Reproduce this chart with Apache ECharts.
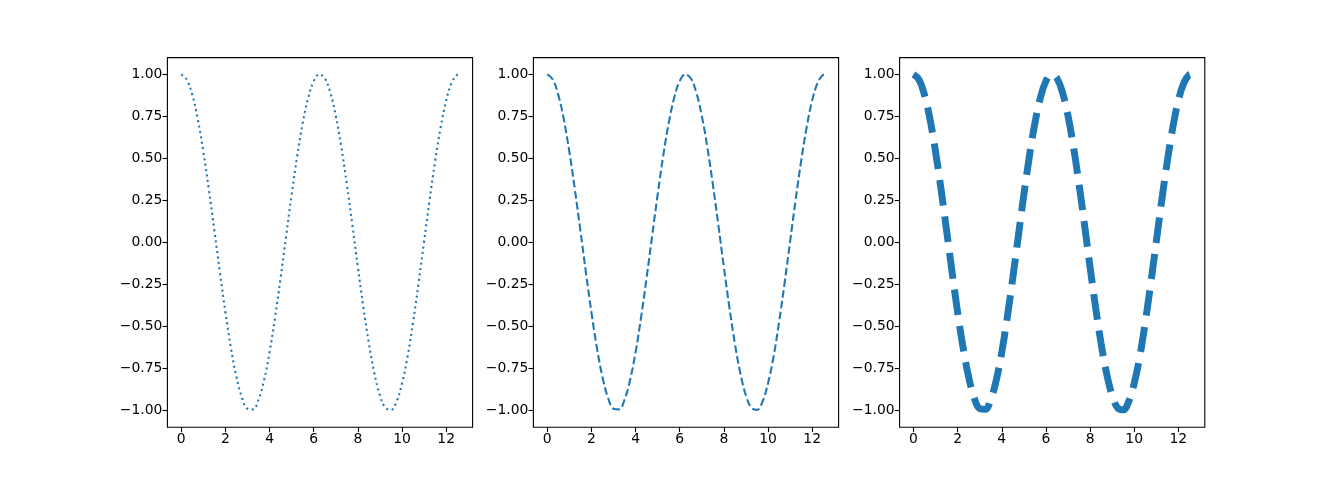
<!DOCTYPE html>
<html>
<head>
<meta charset="utf-8">
<script src="https://cdn.jsdelivr.net/npm/echarts@6/dist/echarts.min.js"></script>
<style>
html,body{margin:0;padding:0;background:#fff;}
#chart{width:1339px;height:480px;}
</style>
</head>
<body>
<div id="chart"></div>
<script>
// Data (cosine-like curve, same in all three panels)
const xValues = [0, 0.25, 0.5, 0.75, 1.0, 1.25, 1.5, 1.75, 2.0, 2.25, 2.5, 2.75, 3.0, 3.25, 3.5, 3.75,
  4.0, 4.25, 4.5, 4.75, 5.0, 5.25, 5.5, 5.75, 6.0, 6.25, 6.5, 6.75, 7.0, 7.25, 7.5, 7.75,
  8.0, 8.25, 8.5, 8.75, 9.0, 9.25, 9.5, 9.75, 10.0, 10.25, 10.5, 10.75, 11.0, 11.25, 11.5, 11.75,
  12.0, 12.25, 12.5, 12.57];
const yValues = [1.000, 0.969, 0.878, 0.732, 0.540, 0.315, 0.071, -0.178, -0.416, -0.628, -0.801, -0.924,
  -0.990, -0.994, -0.936, -0.820, -0.654, -0.446, -0.211, 0.037, 0.284, 0.512, 0.709, 0.861,
  0.960, 1.000, 0.977, 0.893, 0.754, 0.568, 0.347, 0.104, -0.146, -0.386, -0.602, -0.780,
  -0.911, -0.985, -0.997, -0.948, -0.839, -0.682, -0.476, -0.244, 0.004, 0.252, 0.483, 0.684,
  0.844, 0.950, 0.998, 1.000];
const xTicks = [0, 2, 4, 6, 8, 10, 12];
const yTicks = [-1.0, -0.75, -0.5, -0.25, 0.0, 0.25, 0.5, 0.75, 1.0];

(function () {
const points = xValues.map((x, i) => [x, yValues[i]]);

const panelLeft = [167.4, 533.4, 899.6];
const panelW = 305.2;
const gTop = 57.6, gHeight = 369.6;
const PT = 100 / 72;
const styles = [
  {width: 1.5 * PT, type: [1.5 * PT, 2.475 * PT]},
  {width: 1.5 * PT, type: [5.55 * PT, 2.4 * PT]},
  {width: 5 * PT, type: [18.5 * PT, 8 * PT]}
];
const fmtY = v => {
  const s = Math.abs(v) < 1e-9 ? '0.00' : v.toFixed(2);
  return s.replace('-', '\u2212');
};
const font = {fontFamily: 'DejaVu Sans', fontSize: 13.9, color: '#000'};

const grid = [], xAxis = [], yAxis = [], series = [];
for (let i = 0; i < 3; i++) {
  grid.push({left: panelLeft[i], top: gTop, width: panelW, height: gHeight,
    show: true, borderColor: '#000', borderWidth: 1.1, containLabel: false});
  xAxis.push({type: 'value', gridIndex: i, min: -0.6285, max: 13.1985, position: 'bottom',
    axisLine: {show: false, onZero: false},
    splitLine: {show: false},
    axisTick: {show: true, length: 4.9, lineStyle: {color: '#000', width: 1.1}, customValues: xTicks},
    axisLabel: Object.assign({margin: 5, customValues: xTicks, formatter: v => String(v)}, font)});
  yAxis.push({type: 'value', gridIndex: i, min: -1.1, max: 1.1, position: 'left',
    axisLine: {show: false, onZero: false},
    splitLine: {show: false},
    axisTick: {show: true, length: 4.9, lineStyle: {color: '#000', width: 1.1}, customValues: yTicks},
    axisLabel: Object.assign({margin: 5, customValues: yTicks, formatter: fmtY}, font)});
  series.push({type: 'line', xAxisIndex: i, yAxisIndex: i, data: points, showSymbol: false,
    smooth: 0.4, animation: false,
    lineStyle: {color: '#1f77b4', width: styles[i].width, type: styles[i].type, cap: 'butt'}});
}

const chart = echarts.init(document.getElementById('chart'), null, {renderer: 'canvas'});
chart.setOption({animation: false, grid, xAxis, yAxis, series});
})();
</script>
</body>
</html>
